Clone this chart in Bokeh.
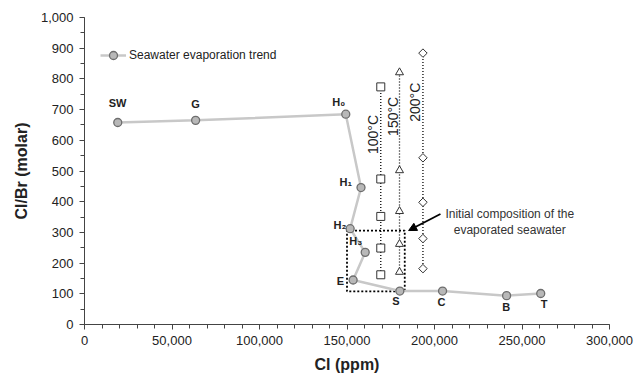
import numpy as np
from bokeh.plotting import figure
from bokeh.models import (Range1d, NumeralTickFormatter, FixedTicker,
                          Arrow, NormalHead, Legend, LegendItem)
from bokeh.core.properties import value
from bokeh.embed import file_html
from bokeh.resources import INLINE

# ---- data ----
trend_names = ["SW", "G", "H₀", "H₁", "H₂", "H₃", "E", "S", "C", "B", "T"]
trend_cl = [19000, 63500, 149300, 158000, 151800, 160400, 153500, 180200, 204600, 241200, 260700]
trend_ratio = [658, 665, 685, 446, 312, 235, 145, 109, 109, 94, 101]
label_cl = [18900, 63500, 145300, 149300, 146000, 155000, 146200, 178000, 204000, 241000, 262600]
label_ratio = [720, 717, 725, 463, 325, 273, 142, 77, 74, 57, 67]

t100_cl = 169300
t100_ratio = [774, 474, 352, 249, 162]
t150_cl = 180000
t150_ratio = [821, 502, 369, 262, 171]
t200_cl = 193400
t200_ratio = [884, 543, 398, 280, 182]
temp_labels = ["100°C", "150°C", "200°C"]
temp_label_cl = [165000, 176000, 189000]
temp_label_ratio = [619, 678, 724]

box_cl = [150000, 183000]
box_ratio = [108, 306]

FONT = "Liberation Sans"

p = figure(width=638, height=384, output_backend="svg", toolbar_location=None,
           x_range=Range1d(0, 300000), y_range=Range1d(0, 1000),
           min_border_left=84, min_border_right=29, min_border_top=17, min_border_bottom=60)
p.outline_line_color = None
p.grid.visible = False
p.background_fill_color = "white"
p.border_fill_color = "white"

for ax in (p.xaxis[0], p.yaxis[0]):
    ax.axis_line_color = "#444444"
    ax.major_tick_line_color = "#444444"
    ax.minor_tick_line_color = "#444444"
    ax.major_tick_out = 5
    ax.major_tick_in = 0
    ax.minor_tick_out = 4
    ax.minor_tick_in = 0
    ax.major_label_text_font = FONT
    ax.major_label_text_font_size = "13px"
    ax.major_label_text_color = "#222222"
    ax.axis_label_text_font = FONT
    ax.axis_label_text_font_style = "bold"
    ax.axis_label_text_font_size = "16px"
    ax.axis_label_text_color = "#222222"
    ax.formatter = NumeralTickFormatter(format="0,0")

p.xaxis.ticker = FixedTicker(ticks=list(range(0, 300001, 50000)),
                             minor_ticks=list(range(0, 300001, 10000)))
p.yaxis.ticker = FixedTicker(ticks=list(range(0, 1001, 100)),
                             minor_ticks=list(range(0, 1001, 50)))
p.xaxis.axis_label = "Cl (ppm)"
p.yaxis.axis_label = "Cl/Br (molar)"
p.xaxis.major_label_standoff = 6
p.yaxis.major_label_standoff = 6
p.xaxis.axis_label_standoff = 8
p.yaxis.axis_label_standoff = 8

# dotted box
p.line([box_cl[0], box_cl[1], box_cl[1], box_cl[0], box_cl[0]],
       [box_ratio[1], box_ratio[1], box_ratio[0], box_ratio[0], box_ratio[1]],
       line_color="black", line_width=1.8, line_dash="2 2")

# experiments
for cl, ratios, marker, size, ang in [(t100_cl, t100_ratio, "square", 8, 0),
                                      (t150_cl, t150_ratio, "triangle", 8, 0),
                                      (t200_cl, t200_ratio, "square", 6, np.pi / 4)]:
    xs = [cl] * len(ratios)
    p.line(xs, ratios, line_color="black", line_width=1.3, line_dash="1 2")
    p.scatter(xs, ratios, marker=marker, size=size, angle=ang,
              fill_color="white", line_color="#333333", line_width=1)

p.text(temp_label_cl, temp_label_ratio, text=temp_labels, angle=np.pi / 2,
       text_align="center", text_baseline="middle", text_font=value(FONT),
       text_font_size="14px", text_color="#222222")

# trend
tl = p.line(trend_cl, trend_ratio, line_color="#c8c8c8", line_width=2.5)
tc = p.scatter(trend_cl, trend_ratio, marker="circle", size=8,
               fill_color="#b8b8b8", line_color="#6e6e6e", line_width=1.3)

p.text(label_cl, label_ratio, text=trend_names, text_align="center", text_baseline="middle",
       text_font=value(FONT), text_font_size="11px", text_font_style="bold",
       text_color="#222222")

# arrow + annotation
p.add_layout(Arrow(end=NormalHead(size=8, fill_color="black", line_color="black"),
                   x_start=203400, y_start=360, x_end=185200, y_end=306,
                   line_color="black", line_width=1.8))
p.text([243000, 243000], [361, 309], text=["Initial composition of the", "evaporated seawater"],
       text_align="center", text_baseline="middle", text_font=value(FONT),
       text_font_size="12px", text_color="#333333")

legend = Legend(items=[LegendItem(label="Seawater evaporation trend", renderers=[tl, tc])],
                location=(16, 259), padding=0, margin=0, spacing=0,
                glyph_width=26, label_standoff=3, border_line_color=None,
                background_fill_alpha=0, label_text_font=FONT,
                label_text_font_size="12px", label_text_color="#222222")
p.add_layout(legend)

open("out.html", "w").write(file_html(p, INLINE))
